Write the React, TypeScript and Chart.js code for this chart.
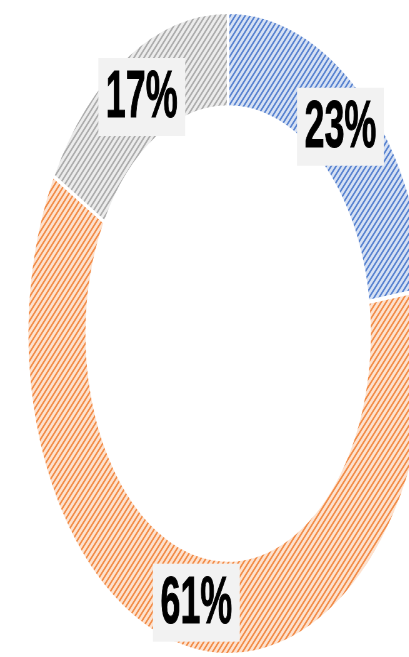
import React, { useEffect, useRef } from "react";
import { Chart, registerables } from "chart.js";

Chart.register(...registerables);

const categories = ["A", "B", "C"];
const values = [23, 61, 17];
const lineColors = ["#5580cf", "#f28a45", "#ababab"];
const bgColors = ["#d6e1f4", "#fde2cf", "#ececec"];

const SQUISH = 0.625;
const CW = 730;
const CH = 657;

function makePattern(line: string, bg: string): CanvasPattern | string {
  const t = document.createElement("canvas");
  t.width = 8;
  t.height = 8;
  const c = t.getContext("2d");
  if (!c) return line;
  c.fillStyle = bg;
  c.fillRect(0, 0, 8, 8);
  c.strokeStyle = line;
  c.lineWidth = 2.1;
  c.lineCap = "square";
  c.beginPath();
  c.moveTo(-1, 9);
  c.lineTo(9, -1);
  c.moveTo(-5, 5);
  c.lineTo(5, -5);
  c.moveTo(3, 13);
  c.lineTo(13, 3);
  c.stroke();
  const p = c.createPattern(t, "repeat");
  return p || line;
}

const labelPlugin = {
  id: "boxLabels",
  afterDatasetsDraw(chart: any) {
    const ctx = chart.ctx as CanvasRenderingContext2D;
    const meta = chart.getDatasetMeta(0);
    const data = chart.data.datasets[0].data as number[];
    ctx.save();
    ctx.font = "bold 66px 'Liberation Sans', Arial, sans-serif";
    meta.data.forEach((arc: any, i: number) => {
      const pos = arc.tooltipPosition(false);
      const text = `${data[i]}%`;
      const tw = ctx.measureText(text).width * 0.87;
      const bw = tw + 24;
      const bh = 78;
      ctx.fillStyle = "#f2f2f2";
      ctx.fillRect(pos.x - bw / 2, pos.y - bh / 2, bw, bh);
      ctx.save();
      ctx.translate(pos.x, pos.y);
      ctx.scale(0.87, 1);
      ctx.fillStyle = "#000000";
      ctx.strokeStyle = "#000000";
      ctx.lineWidth = 1;
      ctx.textAlign = "center";
      ctx.textBaseline = "middle";
      ctx.fillText(text, 0, 2);
      ctx.strokeText(text, 0, 2);
      ctx.restore();
    });
    ctx.restore();
  },
};

export default function App() {
  const ref = useRef<HTMLCanvasElement | null>(null);
  useEffect(() => {
    if (!ref.current) return;
    const patterns = lineColors.map((l, i) => makePattern(l, bgColors[i]));
    const chart = new Chart(ref.current, {
      type: "doughnut",
      data: {
        labels: categories,
        datasets: [
          {
            data: values,
            backgroundColor: patterns as any,
            borderColor: "#ffffff",
            borderWidth: 4,
          },
        ],
      },
      options: {
        responsive: false,
        animation: false,
        devicePixelRatio: 1,
        cutout: "70.4%",
        events: [],
        layout: { padding: { top: 10, bottom: 0, left: 0, right: 0 } },
        plugins: {
          legend: { display: false },
          tooltip: { enabled: false },
        },
      },
      plugins: [labelPlugin],
    });
    return () => chart.destroy();
  }, []);

  return (
    <div
      style={{
        position: "fixed",
        left: 0,
        top: 0,
        width: 409,
        height: 657,
        overflow: "hidden",
        background: "#ffffff",
      }}
    >
      <div
        style={{
          width: CW,
          height: CH,
          transform: `scaleX(${SQUISH})`,
          transformOrigin: "0 0",
        }}
      >
        <canvas
          ref={ref}
          width={CW}
          height={CH}
          style={{ width: CW, height: CH, display: "block" }}
        />
      </div>
    </div>
  );
}
